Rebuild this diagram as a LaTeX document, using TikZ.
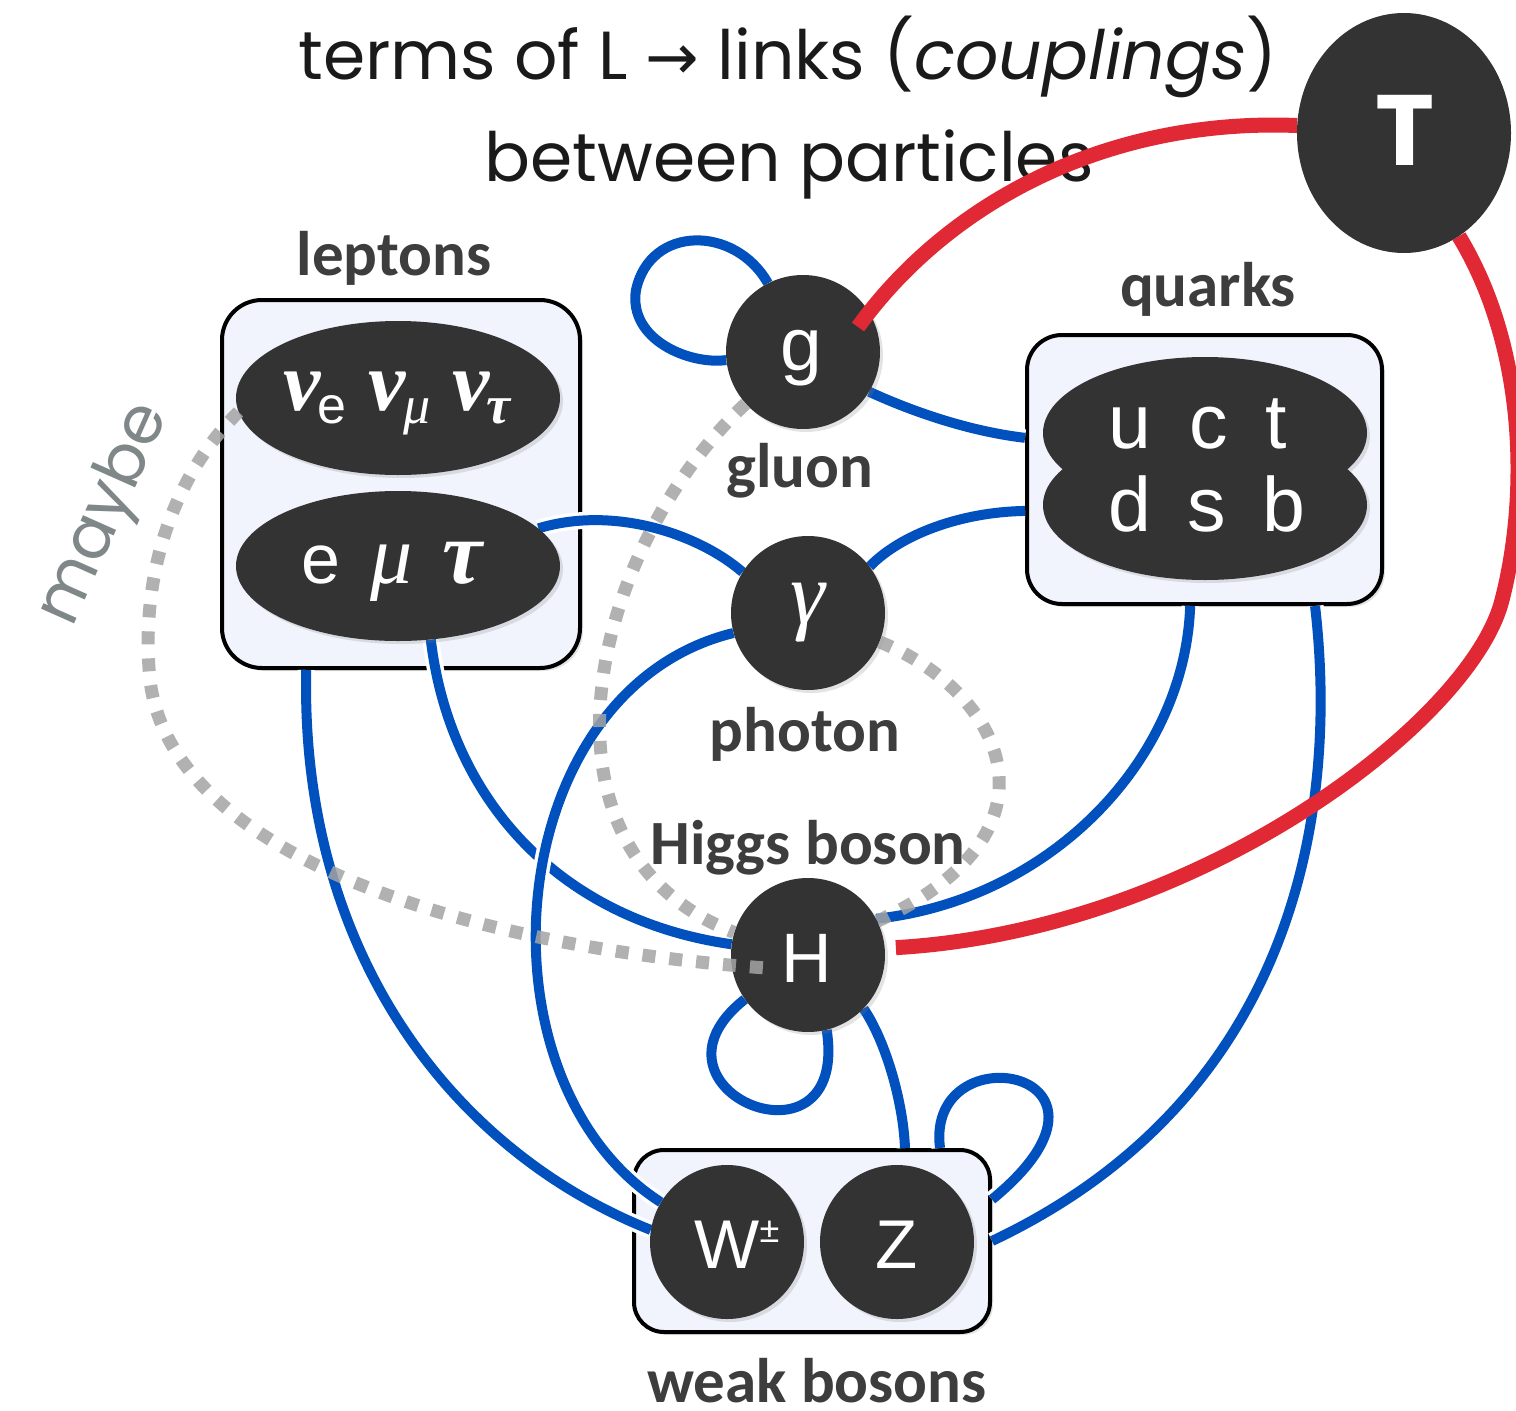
\documentclass[tikz,border=0pt]{standalone}
\usepackage{fontspec}
\usetikzlibrary{shapes.geometric,shadows}

\newfontfamily\titlefont{Poppins}
\newfontfamily\labelfont{Carlito}
\newfontfamily\sansglyph{Liberation Sans}
\newfontfamily\serifglyph{Liberation Serif}
\newfontfamily\arrowfont{DejaVu Sans}

\definecolor{nodedark}{HTML}{333333}
\definecolor{boxfill}{HTML}{F2F4FD}
\definecolor{linkblue}{HTML}{0050BE}
\definecolor{linkred}{HTML}{E12835}
\definecolor{labelgray}{HTML}{3D3D3D}
\definecolor{maybegray}{HTML}{7F8788}
\definecolor{dotgray}{HTML}{A4A4A4}
\definecolor{titleink}{HTML}{1A1A1A}

\pgfdeclarelayer{background}
\pgfdeclarelayer{boxes}
\pgfdeclarelayer{links}
\pgfdeclarelayer{top}
\pgfsetlayers{background,boxes,links,main,top}

% neutrino with a subscript
\newcommand\nuwith[1]{{\serifglyph\bfseries\itshape\fontsize{84}{84}\selectfont ν}\kern-3pt\raisebox{-13pt}{#1}}

\tikzset{
  softshadow/.style={drop shadow={opacity=0.22, shadow xshift=3pt, shadow yshift=-3pt}},
  familybox/.style={draw=black, line width=4pt, fill=boxfill, rounded corners=#1,
    inner sep=0pt, softshadow},
  particle/.style={circle, fill=nodedark, minimum size=154pt, inner sep=0pt, softshadow},
  blob/.style={ellipse, fill=nodedark, inner sep=0pt, softshadow},
  link/.style={draw=linkblue, line width=10pt, preaction={draw=white, line width=17pt}},
  coupling/.style={draw=linkred, line width=15pt},
  maybelink/.style={draw=dotgray, line width=13pt, dash pattern=on 13pt off 14pt, opacity=0.85},
  grouplabel/.style={font=\labelfont\bfseries\fontsize{63}{63}\selectfont, text=labelgray,
    anchor=base, inner sep=0pt},
  glyph/.style={text=white, anchor=base, inner sep=0pt},
  titleline/.style={font=\titlefont\fontsize{68}{68}\selectfont, text=titleink,
    anchor=base, inner sep=0pt},
}

\begin{document}
\begin{tikzpicture}[x=1pt, y=-1pt]
\useasboundingbox (0,0) rectangle (1516,1411);
\begin{pgfonlayer}{background}
  \fill[white] (0,0) rectangle (1516,1411);
\end{pgfonlayer}

% particle families
\begin{pgfonlayer}{boxes}
  \node[familybox=40pt, minimum width=358pt, minimum height=368pt] (lbox) at (401,484) {};
  \node[familybox=35pt, minimum width=355pt, minimum height=269pt] (qbox) at (1204.5,469.5) {};
  \node[familybox=30pt, minimum width=356pt, minimum height=182pt] (wbox) at (812,1241) {};
\end{pgfonlayer}

% dark particle shapes
\node[blob, minimum width=324pt, minimum height=154pt] (nu) at (398,398) {};
\node[blob, minimum width=324pt, minimum height=150pt] (lep) at (398,566) {};
\node[blob, minimum width=324pt, minimum height=152pt] (qup) at (1205,433) {};
\node[blob, minimum width=324pt, minimum height=150pt] (qdown) at (1205,505) {};
\node[particle] (g) at (803,352) {};
\node[particle] (gam) at (808,613) {};
\node[particle] (H) at (808,955) {};
\node[particle] (W) at (727,1242) {};
\node[particle] (Z) at (897,1242) {};
\begin{pgfonlayer}{top}
  \node[ellipse, fill=nodedark, minimum width=214pt, minimum height=240pt, inner sep=0pt]
    (T) at (1404,133) {};
  \node[glyph, font=\titlefont\bfseries\fontsize{100}{100}\selectfont] (Ttxt) at (1405,165) {T};
\end{pgfonlayer}

% particle symbols
\node[glyph] (nutxt) at (397,410)
  {\nuwith{\sansglyph\fontsize{52}{52}\selectfont e}\hspace{22pt}%
   \nuwith{\serifglyph\itshape\fontsize{54}{54}\selectfont μ}\hspace{22pt}%
   \nuwith{\serifglyph\bfseries\itshape\fontsize{54}{54}\selectfont τ}};
\node[glyph] (leptxt) at (392,583)
  {{\sansglyph\fontsize{70}{70}\selectfont e}\hspace{30pt}%
   {\serifglyph\itshape\fontsize{84}{84}\selectfont μ}\hspace{30pt}%
   {\serifglyph\bfseries\itshape\fontsize{90}{90}\selectfont τ}};
\node[glyph, font=\sansglyph\fontsize{77}{77}\selectfont] (uptxt) at (1198,448)
  {u\hspace{38pt}c\hspace{38pt}t};
\node[glyph, font=\sansglyph\fontsize{77}{77}\selectfont] (downtxt) at (1207,531)
  {d\hspace{36pt}s\hspace{36pt}b};
\node[glyph, font=\sansglyph\fontsize{75}{75}\selectfont] (gtxt) at (801,370) {g};
\node[glyph, font=\serifglyph\itshape\fontsize{88}{88}\selectfont] (gamtxt) at (808,623) {γ};
\node[glyph, font=\sansglyph\fontsize{70}{70}\selectfont] (Htxt) at (807,982) {H};
\node[glyph, font=\sansglyph\fontsize{69}{69}\selectfont] (Wtxt) at (737,1268)
  {W\raisebox{26pt}{\fontsize{36}{36}\selectfont ±}};
\node[glyph, font=\sansglyph\fontsize{69}{69}\selectfont] (Ztxt) at (897,1268) {Z};

% family and particle names
\node[grouplabel] (leptonslbl) at (394,275) {leptons};
\node[grouplabel] (quarkslbl) at (1208,306) {quarks};
\node[grouplabel] (gluonlbl) at (800,487) {gluon};
\node[grouplabel] (photonlbl) at (805,751) {photon};
\node[grouplabel] (higgslbl) at (808,864) {Higgs boson};
\node[grouplabel] (weaklbl) at (817,1402) {weak bosons};
\node[font=\titlefont\fontsize{66}{66}\selectfont, text=maybegray, rotate=66, inner sep=0pt]
  (maybelbl) at (106,515) {maybe};

% heading
\node[titleline] (title1) at (788,79)
  {terms of L {\arrowfont\fontsize{64}{64}\selectfont →} links (\textit{couplings})};
\node[titleline] (title2) at (789,181) {between particles};

% couplings (blue)
\coordinate (gloop) at (636,290);
\begin{pgfonlayer}{links}
  \draw[link] (lep.15) .. controls (615,505) and (700,535) .. (gam.148);
  \draw[link] (qbox.193.5) .. controls (960,512) and (900,535) .. (gam.37);
  \draw[link] (g.-31) .. controls (920,415) and (975,432) .. (qbox.170);
  \draw[link] (g.117) .. controls (735,225) and (650,225) .. (gloop)
                      .. controls (628,340) and (690,365) .. (g.186);
  \draw[link] (lep.-66.6) .. controls (450,800) and (560,920) .. (H.172);
  \draw[link] (lbox.243) .. controls (300,950) and (450,1150) .. (W.171);
  \draw[link] (gam.195) .. controls (500,690) and (470,1080) .. (W.149);
  \draw[link] (qbox.264) .. controls (1185,760) and (1050,900) .. (H.28);
  \draw[link] (qbox.-51.9) .. controls (1340,820) and (1290,1100) .. (wbox.east);
  \draw[link] (H.215) .. controls (630,1090) and (850,1180) .. (H.-76.5);
  \draw[link] (H.-44.5) .. controls (885,1040) and (903,1100) .. (wbox.45);
  \draw[link] (wbox.36.5) .. controls (925,1030) and (1150,1070) .. (wbox.13.6);
\end{pgfonlayer}

% possible couplings (dotted)
\coordinate (nubend) at (150,680);
\coordinate (Hdot) at (766,968);
\draw[maybelink] (nu.185) .. controls (170,480) and (140,580) .. (nubend)
                 .. controls (170,850) and (450,945) .. (Hdot);
\draw[maybelink] (g.222.6) .. controls (590,550) and (520,850) .. (H.163);
\draw[maybelink] (gam.-22) .. controls (1000,690) and (1075,830) .. (H.26);

% couplings of T (red)
\coordinate (gin) at (858,327);
\coordinate (rbend) at (1502,600);
\draw[coupling] (T.176) .. controls (1110,118) and (950,200) .. (gin);
\draw[coupling, shorten >=11pt] (T.-62) .. controls (1528,350) and (1528,500) .. (rbend)
                .. controls (1472,720) and (1200,930) .. (H.5);
\end{tikzpicture}
\end{document}
